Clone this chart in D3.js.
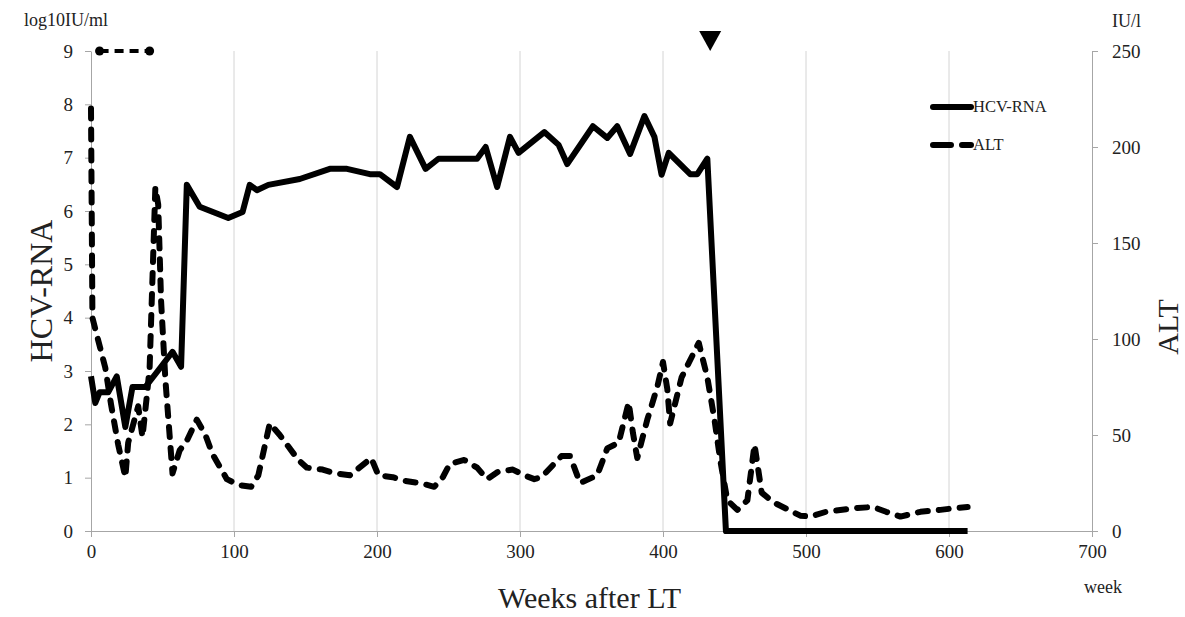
<!DOCTYPE html>
<html>
<head>
<meta charset="utf-8">
<script src="https://cdn.jsdelivr.net/npm/d3@7"></script>
<style>
  body { margin: 0; background: #fff; }
  text { font-family: "Liberation Serif", "Times New Roman", serif; fill: #222; }
</style>
</head>
<body>
<div id="chart"></div>
<script>
// HCV-RNA (log10 IU/ml, left axis)
const rnaWeeks = [0, 3, 6, 12, 18, 24, 29, 38, 49, 57, 63, 67, 76, 96, 106, 111, 116, 124, 146, 167, 179, 195, 202, 214, 223, 234, 243, 270, 276, 284, 293, 299, 317, 327, 333, 351, 361, 368, 377, 387, 394, 399, 404, 419, 424, 431, 444, 613];
const rnaValues = [2.9, 2.4, 2.6, 2.6, 2.9, 1.95, 2.7, 2.7, 3.08, 3.36, 3.08, 6.49, 6.08, 5.87, 5.98, 6.49, 6.39, 6.49, 6.6, 6.79, 6.79, 6.69, 6.69, 6.45, 7.39, 6.79, 6.98, 6.98, 7.2, 6.45, 7.39, 7.09, 7.48, 7.24, 6.88, 7.59, 7.37, 7.59, 7.07, 7.78, 7.39, 6.68, 7.09, 6.69, 6.69, 6.98, 0, 0];

// ALT (IU/l, right axis)
const altWeeks = [0, 1, 10, 14, 19, 24, 26, 33, 36, 39, 41, 45, 47, 49, 52, 57, 62, 67, 74, 80, 85, 95, 103, 112, 117, 125, 132, 145, 151, 162, 171, 181, 196, 201, 211, 220, 230, 240, 246, 251, 261, 270, 277, 285, 295, 303, 310, 315, 329, 335, 342, 354, 361, 369, 376, 379, 382, 389, 396, 400, 403, 405, 413, 425, 431, 436, 440, 445, 452, 459, 464, 469, 477, 496, 503, 514, 536, 547, 556, 566, 580, 594, 605, 613];
const altValues = [220, 111, 85, 66, 45, 28, 46, 65, 49, 70, 85, 179, 170, 120, 79, 30, 42, 47, 58, 50, 40, 27, 24, 23, 29, 56, 50, 37, 33, 32, 30, 29, 38, 29, 28, 26, 25, 23, 28, 35, 37, 33, 27, 31, 32, 29, 27, 28, 39, 39, 25, 29, 43, 46, 67, 51, 38, 58, 75, 88, 74, 56, 80, 98, 80, 58, 37, 16, 11, 16, 45, 20, 15, 8, 7.5, 10, 12, 12.5, 10, 7.5, 10, 11, 12, 12.5];

// stray dashed marker at top-left of the plot
const markWeeks = [6, 41];
const markValues = [250, 250];

const xTicks = [0, 100, 200, 300, 400, 500, 600, 700];
const leftTicks = [0, 1, 2, 3, 4, 5, 6, 7, 8, 9];
const rightTicks = [0, 50, 100, 150, 200, 250];
const arrowWeek = 433;

const rna = rnaWeeks.map((w, i) => ({ w, v: rnaValues[i] }));
const alt = altWeeks.map((w, i) => ({ w, v: altValues[i] }));
const mark = markWeeks.map((w, i) => ({ w, v: markValues[i] }));

const W = 1185, H = 617;
const margin = { top: 51, right: 93, bottom: 86, left: 91 };
const iw = W - margin.left - margin.right;
const ih = H - margin.top - margin.bottom;

const svg = d3.select("#chart").append("svg")
  .attr("width", W).attr("height", H);
const g = svg.append("g")
  .attr("transform", `translate(${margin.left},${margin.top})`);

const x = d3.scaleLinear().domain([0, 700]).range([0, iw]);
const yL = d3.scaleLinear().domain([0, 9]).range([ih, 0]);
const yR = d3.scaleLinear().domain([0, 250]).range([ih, 0]);

// vertical gridlines
g.selectAll(".grid").data(xTicks.filter(d => d > 0 && d < 700)).enter()
  .append("line")
  .attr("x1", d => x(d)).attr("x2", d => x(d))
  .attr("y1", 0).attr("y2", ih)
  .attr("stroke", "#d4d4d4").attr("stroke-width", 1);

// axes
const axisStyle = sel => {
  sel.select(".domain").attr("stroke", "#a6a6a6");
  sel.selectAll(".tick line").attr("stroke", "#a6a6a6");
  sel.selectAll(".tick text")
    .attr("font-family", "Liberation Serif, serif")
    .attr("font-size", 19).attr("fill", "#222");
};

g.append("g")
  .attr("transform", `translate(0,${ih})`)
  .call(d3.axisBottom(x).tickValues(xTicks).tickSize(6).tickSizeOuter(0).tickPadding(8))
  .call(axisStyle);

g.append("g")
  .call(d3.axisLeft(yL).tickValues(leftTicks).tickSize(6).tickSizeOuter(0).tickPadding(12))
  .call(axisStyle);

g.append("g")
  .attr("transform", `translate(${iw},0)`)
  .call(d3.axisRight(yR).tickValues(rightTicks).tickSize(6).tickSizeOuter(0).tickPadding(14))
  .call(axisStyle);

// lines
const lineL = d3.line().x(d => x(d.w)).y(d => yL(d.v));
const lineR = d3.line().x(d => x(d.w)).y(d => yR(d.v));

g.append("path").datum(alt)
  .attr("d", lineR)
  .attr("fill", "none").attr("stroke", "#000")
  .attr("stroke-width", 6).attr("stroke-linecap", "round").attr("stroke-linejoin", "round")
  .attr("stroke-dasharray", "10,11");

g.append("path").datum(rna)
  .attr("d", lineL)
  .attr("fill", "none").attr("stroke", "#000")
  .attr("stroke-width", 6).attr("stroke-linejoin", "round");

// top-left dashed marker with dots
g.append("path").datum(mark)
  .attr("d", lineR)
  .attr("fill", "none").attr("stroke", "#000")
  .attr("stroke-width", 4).attr("stroke-dasharray", "9,6");
g.selectAll(".dot").data(mark).enter().append("circle")
  .attr("cx", d => x(d.w)).attr("cy", d => yR(d.v)).attr("r", 4.5).attr("fill", "#000");

// downward arrow marker
const ax = x(arrowWeek);
svg.append("path")
  .attr("d", `M${margin.left + ax - 11},31 L${margin.left + ax + 11},31 L${margin.left + ax},51 Z`)
  .attr("fill", "#000");

// legend
const lg = svg.append("g").attr("transform", "translate(933,0)");
lg.append("line").attr("x1", 0).attr("x2", 38).attr("y1", 107).attr("y2", 107)
  .attr("stroke", "#000").attr("stroke-width", 6).attr("stroke-linecap", "round");
lg.append("text").attr("x", 40).attr("y", 112).attr("font-size", 16.5).text("HCV-RNA");
lg.append("line").attr("x1", 0).attr("x2", 38).attr("y1", 145).attr("y2", 145)
  .attr("stroke", "#000").attr("stroke-width", 6).attr("stroke-linecap", "round")
  .attr("stroke-dasharray", "18,11");
lg.append("text").attr("x", 40).attr("y", 150).attr("font-size", 16.5).text("ALT");

// axis titles and units
svg.append("text").attr("x", 24).attr("y", 26).attr("font-size", 18).text("log10IU/ml");
svg.append("text").attr("x", 1112).attr("y", 27).attr("font-size", 18).text("IU/l");
svg.append("text").attr("x", 1084).attr("y", 593).attr("font-size", 18).text("week");

svg.append("text")
  .attr("transform", `translate(52,${margin.top + ih / 2}) rotate(-90)`)
  .attr("text-anchor", "middle").attr("font-size", 32).text("HCV-RNA");
svg.append("text")
  .attr("transform", `translate(1178,${margin.top + ih / 2 + 36}) rotate(-90)`)
  .attr("text-anchor", "middle").attr("font-size", 30).text("ALT");
svg.append("text")
  .attr("x", margin.left + iw * 0.5 - 2).attr("y", 608)
  .attr("text-anchor", "middle").attr("font-size", 30).text("Weeks after LT");
</script>
</body>
</html>
